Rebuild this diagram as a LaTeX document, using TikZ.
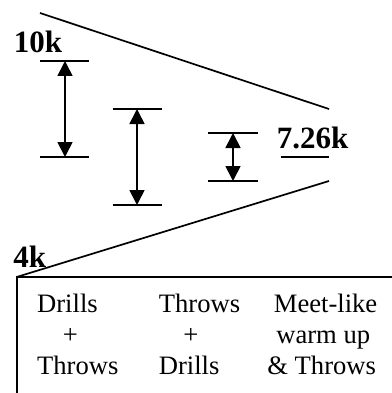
\documentclass[tikz,border=0pt]{standalone}
\usepackage{fontspec}
\setmainfont{Liberation Serif}
\usetikzlibrary{arrows.meta}
\begin{document}
\begin{tikzpicture}[x=1pt,y=-1pt,line width=1.7pt,
  lbl/.style={inner sep=0pt,anchor=base west,font=\fontsize{31}{31}\selectfont\bfseries},
  txt/.style={inner sep=0pt,anchor=base west,font=\fontsize{26.6}{31}\selectfont},
  dimarrow/.style={{Triangle[length=15pt,width=15pt]}-{Triangle[length=15pt,width=15pt]},line width=1.7pt},
  tickline/.style={line width=1.7pt}]
\useasboundingbox (0,0) rectangle (391,393);
% outline lines
\coordinate (L1a) at (40,13);
\coordinate (L1b) at (329,109);
\coordinate (L2a) at (329,181);
\coordinate (C) at (16.7,277);
\coordinate (R) at (392,277);
\coordinate (B) at (16.7,394);
\draw (L1a) -- (L1b);
\draw (L2a) -- (C);
\draw (R) -- (C) -- (B);
% dimension arrows
\coordinate (A1t) at (65,61);
\coordinate (A1b) at (65,157);
\coordinate (A2t) at (137,109);
\coordinate (A2b) at (137,205);
\coordinate (A3t) at (233,133);
\coordinate (A3b) at (233,181);
\draw[tickline] (A1t) ++(-25,0) -- ++(49,0);
\draw[tickline] (A1b) ++(-25,0) -- ++(49,0);
\draw[tickline] (A2t) ++(-24.5,0) -- ++(49,0);
\draw[tickline] (A2b) ++(-24.5,0) -- ++(49,0);
\draw[tickline] (A3t) ++(-25,0) -- ++(50,0);
\draw[tickline] (A3b) ++(-25,0) -- ++(50,0);
\draw[dimarrow] (A1t) -- (A1b);
\draw[dimarrow] (A2t) -- (A2b);
\draw[dimarrow] (A3t) -- (A3b);
% labels
\node[lbl] (k10) at (13,52.3) {10k};
\node[lbl] (k726) at (276,148.3) {7.26k};
\coordinate (U1) at (280.7,157.3);
\coordinate (U2) at (329.3,157.3);
\draw (U1) -- (U2);
\node[lbl] (k4) at (12.5,267.3) {4k};
% box texts
\node[txt] (c1a) at (36.3,312) {Drills};
\node[txt] (c1b) at (62,343.3) {+};
\node[txt] (c1c) at (36.3,374.3) {Throws};
\node[txt] (c2a) at (158,312) {Throws};
\node[txt] (c2b) at (182.5,343.3) {+};
\node[txt] (c2c) at (158,374.3) {Drills};
\node[txt] (c3a) at (273,312) {Meet-like};
\node[txt] (c3b) at (275.5,343.3) {warm up};
\node[txt] (c3c) at (266.5,374.3) {\& Throws};
\end{tikzpicture}
\end{document}
